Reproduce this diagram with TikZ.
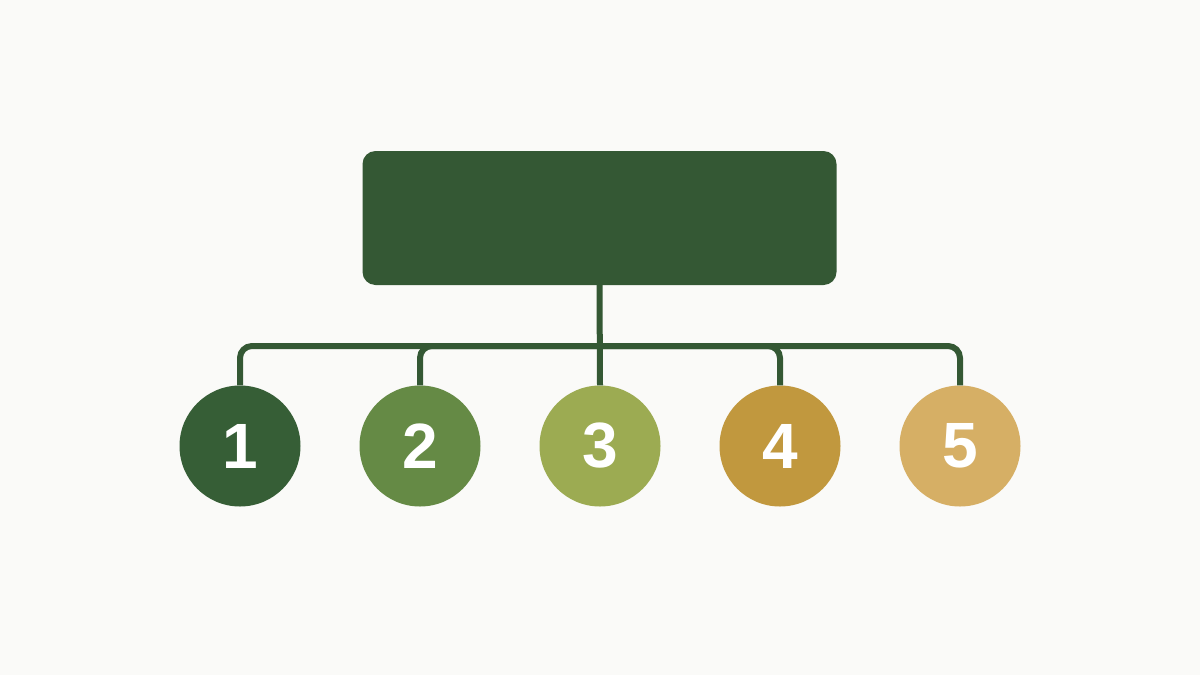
\documentclass[tikz,border=0pt]{standalone}
\usepackage{fontspec}
\setmainfont{Liberation Sans}
\definecolor{bgc}{HTML}{FAFAF8}
\definecolor{dkg}{HTML}{345834}
\definecolor{c1}{HTML}{365E36}
\definecolor{c2}{HTML}{658A45}
\definecolor{c3}{HTML}{9CAB52}
\definecolor{c4}{HTML}{C1983E}
\definecolor{c5}{HTML}{D6AF65}
\tikzset{
  numcircle/.style={circle, minimum size=121pt, inner sep=0pt, text=white,
    font=\fontsize{64}{64}\selectfont\bfseries},
  link/.style={draw=dkg, line width=6pt, rounded corners=12pt},
}
\begin{document}
\begin{tikzpicture}[x=1pt,y=-1pt]
\fill[bgc] (0,0) rectangle (1200,675);
\useasboundingbox (0,0) rectangle (1200,675);
\node[fill=dkg, rounded corners=13pt, minimum width=474pt, minimum height=134pt, inner sep=0pt] (top) at (599.5,218) {};
\coordinate (hub) at (600,346);
\foreach \i/\x in {1/240,2/420,3/600,4/780,5/960}{
  \node[numcircle, fill=c\i] (n\i) at (\x,446) {\i};
}
\draw[link] (top.south) -- (n3.north);
\draw[link] (hub) -| (n1.north);
\draw[link] (hub) -| (n2.north);
\draw[link] (hub) -| (n4.north);
\draw[link] (hub) -| (n5.north);
\end{tikzpicture}
\end{document}
